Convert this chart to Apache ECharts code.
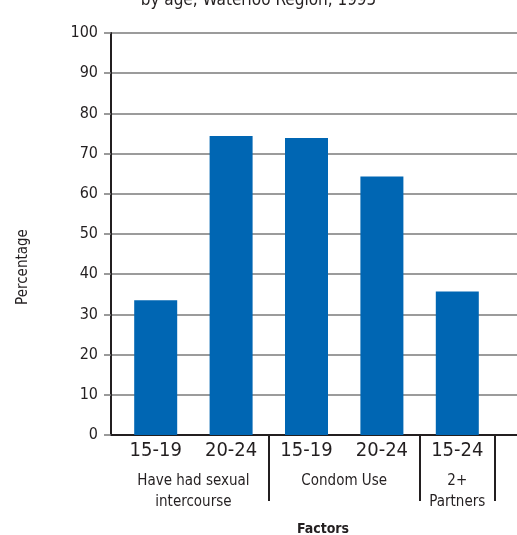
<!DOCTYPE html>
<html>
<head>
<meta charset="utf-8">
<script src="https://cdn.jsdelivr.net/npm/echarts@6/dist/echarts.min.js"></script>
<style>
  html, body {margin: 0; padding: 0; background: #fff;}
  #chart {width: 517px; height: 535px;}
</style>
</head>
<body>
<div id="chart"></div>
<script>
const ages = ['15-19', '20-24', '15-19', '20-24', '15-24']
const values = [33.5, 74.4, 73.9, 64.3, 35.7]
// group labels sit on an 11-point half-band axis: centres of the 2+2+1 groups
const groupLabels = ['', '', 'Have had sexual\nintercourse', '', '', '', 'Condom Use', '', '', '2+\nPartners', '']
const yTicks = [0, 100, 10]

const font = '"Liberation Sans Narrow", "DejaVu Sans Condensed", "Arial Narrow", sans-serif'
const ink = '#231f20'

const chart = echarts.init(document.getElementById('chart'))

chart.setOption({
  animation: false,
  textStyle: {fontFamily: font},
  title: {
    text: 'by age, Waterloo Region, 1995',
    left: 'center',
    top: -13,
    textStyle: {fontFamily: font, fontSize: 17, fontWeight: 'normal', color: ink}
  },
  grid: [
    {left: 111, right: 0, top: 33, bottom: 100, outerBoundsMode: 'none'},
    {left: 118, right: 22, top: 33, bottom: 100, outerBoundsMode: 'none'}
  ],
  xAxis: [
    {
      gridIndex: 0,
      type: 'category',
      data: ages,
      axisLine: {lineStyle: {color: ink, width: 2}},
      axisTick: {show: false},
      axisLabel: {show: false},
      name: 'Factors',
      nameLocation: 'middle',
      nameGap: 87,
      nameTextStyle: {fontFamily: font, fontSize: 14, fontWeight: 'bold', color: ink, padding: [0, 0, 0, 18]}
    },
    {
      gridIndex: 1,
      type: 'category',
      position: 'bottom',
      data: ages,
      axisLine: {show: false},
      axisTick: {
        show: true,
        length: 66,
        interval: (i) => i === 2 || i === 4,
        lineStyle: {color: ink, width: 2}
      },
      axisLabel: {fontFamily: font, fontSize: 20, color: ink, margin: 6, interval: 0}
    },
    {
      gridIndex: 1,
      type: 'category',
      position: 'bottom',
      boundaryGap: false,
      data: groupLabels,
      axisLine: {show: false},
      axisTick: {show: false},
      axisLabel: {fontFamily: font, fontSize: 15, lineHeight: 21, color: ink, margin: 36, interval: 0}
    }
  ],
  yAxis: [
    {
      gridIndex: 0,
      type: 'value',
      min: yTicks[0],
      max: yTicks[1],
      interval: yTicks[2],
      axisLine: {show: true, lineStyle: {color: ink, width: 2}},
      axisTick: {show: true, length: 7, lineStyle: {color: '#7a7a7a', width: 1.5}},
      splitLine: {lineStyle: {color: '#7a7a7a', width: 1.5}},
      axisLabel: {fontFamily: font, fontSize: 16, color: ink, margin: 13},
      name: 'Percentage',
      nameLocation: 'middle',
      nameGap: 80,
      nameTextStyle: {fontFamily: font, fontSize: 15, color: ink, padding: [0, 66, 0, 0]}
    },
    {
      gridIndex: 1,
      type: 'value',
      min: yTicks[0],
      max: yTicks[1],
      show: false
    }
  ],
  series: [
    {
      type: 'bar',
      xAxisIndex: 1,
      yAxisIndex: 1,
      data: values,
      barWidth: 43,
      itemStyle: {color: '#0066b3'}
    }
  ]
})
</script>
</body>
</html>
